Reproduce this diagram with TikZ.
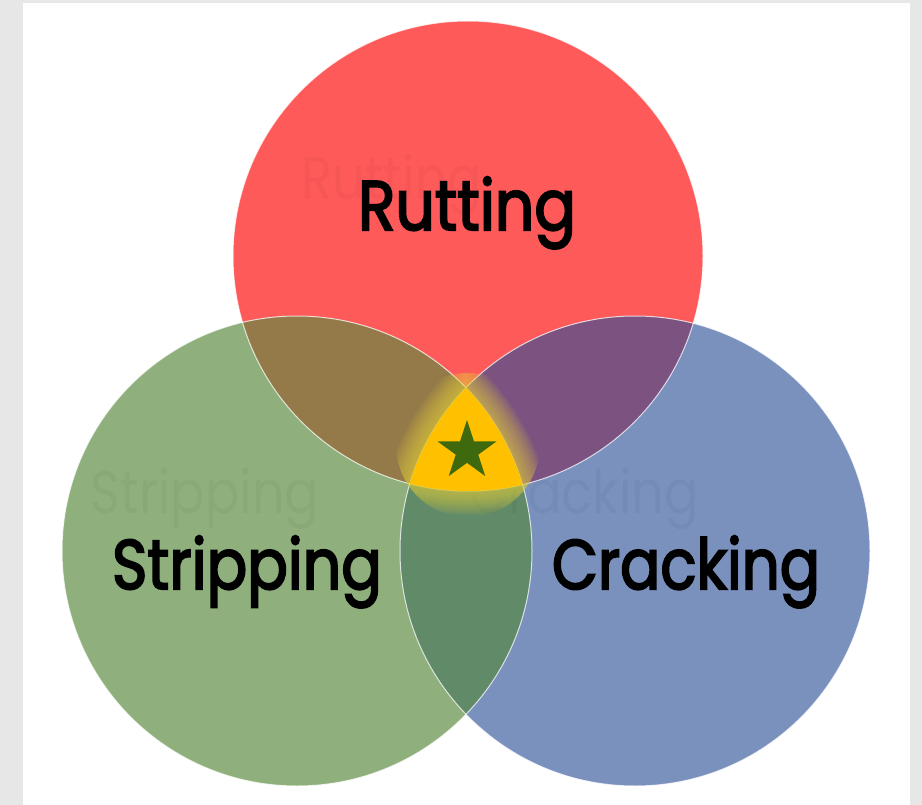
\documentclass[tikz,border=0pt]{standalone}
\usepackage{fontspec}
\newfontfamily\labfont{Poppins}[FakeBold=3]
\newfontfamily\ghostfont{Poppins}
\usetikzlibrary{shapes.geometric}
\definecolor{bggray}{HTML}{E6E7E6}
\definecolor{cred}{HTML}{FF5A5A}
\definecolor{cgreen}{HTML}{8FB07C}
\definecolor{cblue}{HTML}{7A91BE}
\definecolor{crg}{HTML}{947A48}
\definecolor{crb}{HTML}{7B5280}
\definecolor{cgb}{HTML}{618A68}
\definecolor{cgold}{HTML}{FFC000}
\definecolor{cglow}{HTML}{E6D23C}
\definecolor{cstar}{HTML}{3E690C}
\tikzset{
  mainlabel/.style={font=\labfont\fontsize{70}{70}\selectfont, text=black, anchor=base, inner sep=0},
  ghostlabel/.style={font=\ghostfont\fontsize{60}{60}\selectfont, text=black, opacity=0.035, anchor=base, inner sep=0},
  edgeline/.style={draw=white, line width=1, opacity=0.75},
}
\begin{document}
\begin{tikzpicture}[x=1pt,y=-1pt]
\useasboundingbox (0,0) rectangle (922,805);
\fill[bggray] (0,0) rectangle (922,805);
\fill[white] (23,3) rectangle (910,805);
\coordinate (R) at (468,256);
\coordinate (G) at (297,551);
\coordinate (B) at (635,551);
\def\rad{235}
% circles
\fill[cred] (R) circle (\rad);
\fill[cgreen] (G) circle (\rad);
\fill[cblue] (B) circle (\rad);
% pairwise overlaps
\begin{scope}
  \clip (R) circle (\rad);
  \fill[crg] (G) circle (\rad);
  \fill[crb] (B) circle (\rad);
\end{scope}
\begin{scope}
  \clip (G) circle (\rad);
  \fill[cgb] (B) circle (\rad);
\end{scope}
% ghost labels
\node[ghostlabel, xscale=0.85] (gr) at (392,200) {Rutting};
\node[ghostlabel, xscale=0.85] (gs) at (205,513) {Stripping};
\node[ghostlabel, xscale=0.85] (gc) at (584,513) {Cracking};
% white edges
\draw[edgeline] (R) circle (\rad);
\draw[edgeline] (G) circle (\rad);
\draw[edgeline] (B) circle (\rad);
% glow
\begin{scope}
  \clip (468,445) circle (72);
  \foreach \d in {24,22,...,2} {
    \begin{scope}
      \clip (R) circle (\rad+\d);
      \clip (G) circle (\rad+\d);
      \fill[cglow, opacity=0.08] (B) circle (\rad+\d);
    \end{scope}
  }
\end{scope}
% triple intersection
\begin{scope}
  \clip (R) circle (\rad);
  \clip (G) circle (\rad);
  \fill[cgold] (B) circle (\rad);
\end{scope}
\node[star, star points=5, star point ratio=2.618, fill=cstar, minimum size=62, inner sep=0] (st) at (467,451) {};
% labels
\node[mainlabel, xscale=0.88] (lr) at (467,230) {Rutting};
\node[mainlabel, xscale=0.86] (ls) at (247,589) {Stripping};
\node[mainlabel, xscale=0.85] (lc) at (686,589) {Cracking};
\end{tikzpicture}
\end{document}
